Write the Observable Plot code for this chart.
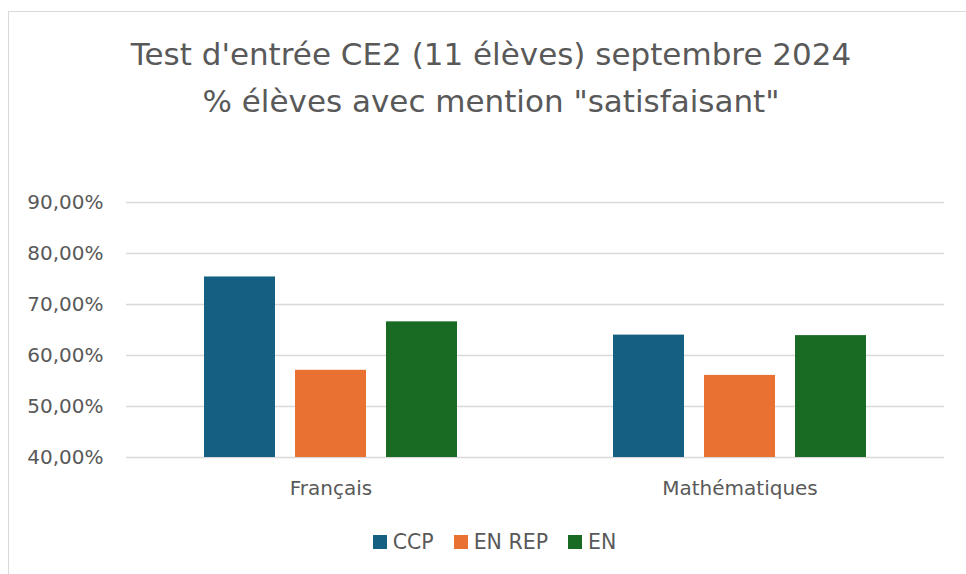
<!DOCTYPE html>
<html>
<head>
<meta charset="utf-8">
<script src="https://cdn.jsdelivr.net/npm/d3@7"></script>
<script src="https://cdn.jsdelivr.net/npm/@observablehq/plot@0.6"></script>
<style>
  html, body { margin: 0; padding: 0; background: #fff; overflow: hidden; width: 966px; height: 574px; }
  #frame { position: absolute; left: 8px; top: 11px; width: 1000px; height: 620px; border: 1.5px solid #d9d9d9; box-sizing: border-box; }
  #title { position: absolute; left: 0; top: 0; width: 982px; text-align: center; font-family: "DejaVu Sans", sans-serif; font-size: 31px; color: #595959; line-height: 47px; padding-top: 31px; }
  #chart { position: absolute; left: 0; top: 150px; }
  #legend { position: absolute; left: 0; top: 530px; width: 989px; display: flex; justify-content: center; font-family: "DejaVu Sans", sans-serif; font-size: 20.5px; color: #595959; }
  .item { display: flex; align-items: center; margin: 0 10px; }
  .sw { width: 14px; height: 14px; margin-right: 6px; }
</style>
</head>
<body>
<div id="frame"></div>
<div id="title">Test d'entrée CE2 (11 élèves) septembre 2024<br>% élèves avec mention "satisfaisant"</div>
<div id="chart"></div>
<div id="legend"></div>
<script>
const categories = ["Français", "Mathématiques"];
const series = ["CCP", "EN REP", "EN"];
const colors = ["#156082", "#E97132", "#196B24"];
const ccp = [75.4, 64.0];
const enRep = [57.1, 56.1];
const en = [66.6, 63.9];
const yTicks = [40, 50, 60, 70, 80, 90];

const seriesValues = [ccp, enRep, en];
const data = categories.flatMap((c, i) =>
  series.map((s, j) => ({category: c, series: s, value: seriesValues[j][i]}))
);

const chart = Plot.plot({
  width: 966,
  height: 357,
  marginLeft: 126,
  marginRight: 22,
  marginTop: 52,
  marginBottom: 50,
  style: {fontFamily: "DejaVu Sans, sans-serif", fontSize: "20px", color: "#595959", background: "transparent"},
  fx: {domain: categories, padding: 0, label: null, axis: "bottom", tickSize: 0, tickPadding: 23},
  x: {domain: series, axis: null, paddingInner: 0.22, paddingOuter: 0.857},
  y: {domain: [40, 90], ticks: yTicks, tickSize: 0, tickPadding: 23, label: null,
      tickFormat: d => d.toFixed(2).replace(".", ",") + "%"},
  color: {domain: series, range: colors},
  marks: [
    Plot.ruleY(yTicks, {stroke: "#d9d9d9", strokeWidth: 1.4}),
    Plot.barY(data, {fx: "category", x: "series", y1: 40, y2: "value", fill: "series"})
  ]
});
document.getElementById("chart").appendChild(chart);

const legend = document.getElementById("legend");
series.forEach((s, i) => {
  const item = document.createElement("div");
  item.className = "item";
  const sw = document.createElement("div");
  sw.className = "sw";
  sw.style.background = colors[i];
  item.appendChild(sw);
  const t = document.createElement("span");
  t.textContent = s;
  item.appendChild(t);
  legend.appendChild(item);
});
</script>
</body>
</html>
